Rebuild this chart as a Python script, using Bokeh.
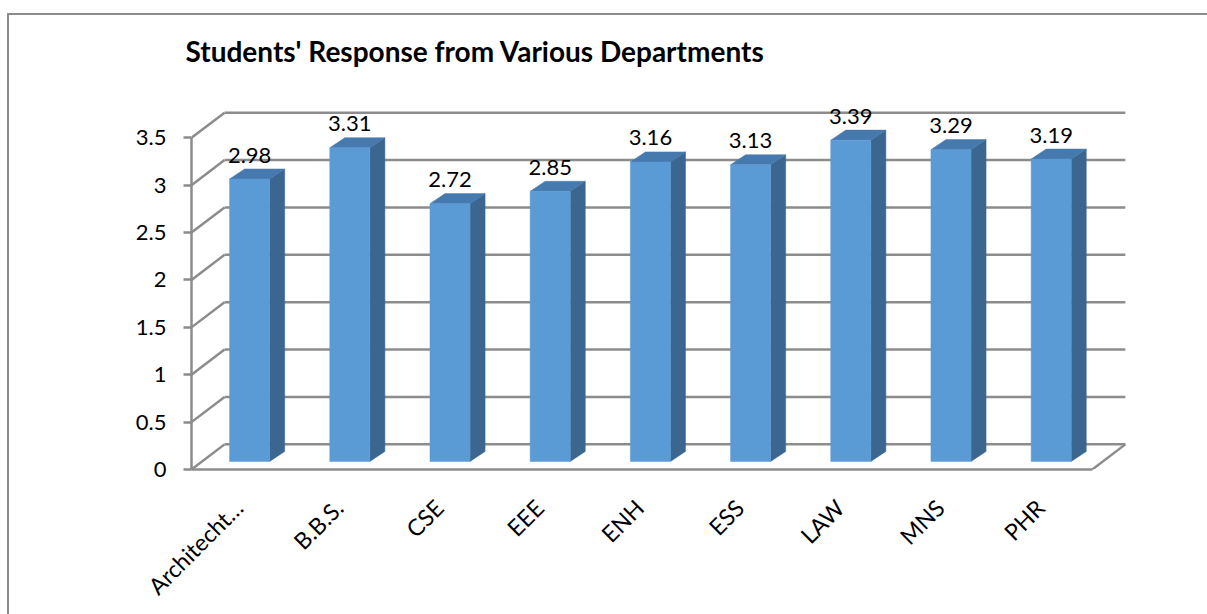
import math
from bokeh.plotting import figure
from bokeh.models import Range1d, FixedTicker, NumeralTickFormatter, ColumnDataSource
from bokeh.embed import file_html
from bokeh.resources import INLINE
from bokeh.core.properties import value

# ---- data ----
categories = ["Architecht\u2026", "B.B.S.", "CSE", "EEE", "ENH", "ESS", "LAW", "MNS", "PHR"]
scores = [2.98, 3.31, 2.72, 2.85, 3.16, 3.13, 3.39, 3.29, 3.19]
y_ticks = [0, 0.5, 1, 1.5, 2, 2.5, 3, 3.5]
title_text = "Students' Response from Various Departments"

# ---- layout constants (page pixels) ----
PAGE_W, PAGE_H = 1207, 614
OX, OY = 9, 15                # canvas origin on the page (inside the chart-area border)
W, H = PAGE_W - OX, PAGE_H - OY
FRAME_L, FRAME_B, FRAME_T = 191 - OX, 467 - OY, 80 - OY
PX_X, PX_Y = 100.0, 94.29
X0 = 238 - OX                 # canvas pixel of first category tick (label anchor)
x_start = (FRAME_L - X0) / PX_X
x_end = (W - X0) / PX_X
y_end = (FRAME_B - FRAME_T) / PX_Y

DEPTH_X, DEPTH_Y = 33 / PX_X, 25 / PX_Y
FLOOR_R = (1090 - OX - X0) / PX_X
BAR_OFF, BAR_W = (249 - OX - X0) / PX_X, 0.40
BAR_BASE = 8 / PX_Y
BAR_DX, BAR_DY = 15 / PX_X, 10 / PX_Y

GRID = "#8c8c8c"
FRONT, SIDE, TOP = "#5b9bd5", "#3b6690", "#4679ad"
FONT = "Lato"

p = figure(width=W, height=H, output_backend="svg", toolbar_location=None,
           x_range=Range1d(x_start, x_end), y_range=Range1d(0, y_end),
           min_border_left=FRAME_L, min_border_right=0, min_border_top=FRAME_T,
           min_border_bottom=H - FRAME_B,
           margin=(OY - 2, 0, 0, OX - 2),
           styles={"border-left": "2px solid #8c8c8c", "border-top": "2px solid #8c8c8c",
                   "box-sizing": "content-box"})
p.outline_line_color = None
p.grid.visible = False
p.background_fill_color = "white"
p.border_fill_color = "white"

p.title.text = title_text
p.title.text_font = FONT
p.title.text_font_size = "28px"
p.title.text_font_style = "bold"
p.title.text_color = "black"
p.title.align = "left"
p.title.offset = -6
p.title.standoff = 26

# walls / gridlines
n = len(y_ticks)
p.segment(x0=[x_start] * n, y0=y_ticks, x1=[x_start + DEPTH_X] * n,
          y1=[v + DEPTH_Y for v in y_ticks], line_color=GRID, line_width=2.5)
p.segment(x0=[x_start + DEPTH_X] * n, y0=[v + DEPTH_Y for v in y_ticks],
          x1=[FLOOR_R + DEPTH_X] * n, y1=[v + DEPTH_Y for v in y_ticks],
          line_color=GRID, line_width=2.5)
p.segment(x0=[FLOOR_R], y0=[0], x1=[FLOOR_R + DEPTH_X], y1=[DEPTH_Y],
          line_color=GRID, line_width=2.5)

# bars
idx = list(range(len(categories)))
xl = [i + BAR_OFF - BAR_W / 2 for i in idx]
xr = [i + BAR_OFF + BAR_W / 2 for i in idx]
bot = [BAR_BASE] * len(idx)
top = [s + BAR_BASE for s in scores]

side_xs = [[r, r + BAR_DX, r + BAR_DX, r] for r in xr]
side_ys = [[b, b + BAR_DY, t + BAR_DY, t] for b, t in zip(bot, top)]
top_xs = [[l, r, r + BAR_DX, l + BAR_DX] for l, r in zip(xl, xr)]
top_ys = [[t, t, t + BAR_DY, t + BAR_DY] for t in top]

p.patches(side_xs, side_ys, fill_color=SIDE, line_color=SIDE, line_width=0.5)
p.patches(top_xs, top_ys, fill_color=TOP, line_color=TOP, line_width=0.5)
p.quad(left=xl, right=xr, bottom=bot, top=top, fill_color=FRONT, line_color=FRONT, line_width=0.5)

# value labels
src = ColumnDataSource(dict(x=[i + BAR_OFF for i in idx], y=top,
                            t=["%.2f" % s for s in scores]))
p.text(x="x", y="y", text="t", source=src, text_align="center", text_baseline="alphabetic",
       y_offset=-24, text_font=value(FONT), text_font_size="22px", text_color="black")

# axes
ya = p.yaxis[0]
ya.ticker = FixedTicker(ticks=y_ticks)
ya.formatter = NumeralTickFormatter(format="0.[0]")
ya.bounds = (0, y_ticks[-1])
ya.axis_line_color = GRID
ya.axis_line_width = 2.5
ya.major_tick_line_color = GRID
ya.major_tick_line_width = 2.5
ya.major_tick_out = 8
ya.major_tick_in = 0
ya.minor_tick_line_color = None
ya.major_label_standoff = 17
ya.major_label_text_font = FONT
ya.major_label_text_font_size = "22px"
ya.major_label_text_color = "black"

xa = p.xaxis[0]
xa.ticker = FixedTicker(ticks=idx)
xa.major_label_overrides = {i: c for i, c in enumerate(categories)}
xa.bounds = (x_start, FLOOR_R)
xa.axis_line_color = GRID
xa.axis_line_width = 2.5
xa.major_tick_line_color = None
xa.major_tick_out = 0
xa.major_tick_in = 0
xa.minor_tick_line_color = None
xa.major_label_orientation = math.pi / 4
xa.major_label_standoff = 34
xa.major_label_text_font = FONT
xa.major_label_text_font_size = "23px"
xa.major_label_text_color = "black"

open("out.html", "w").write(file_html(p, INLINE))
